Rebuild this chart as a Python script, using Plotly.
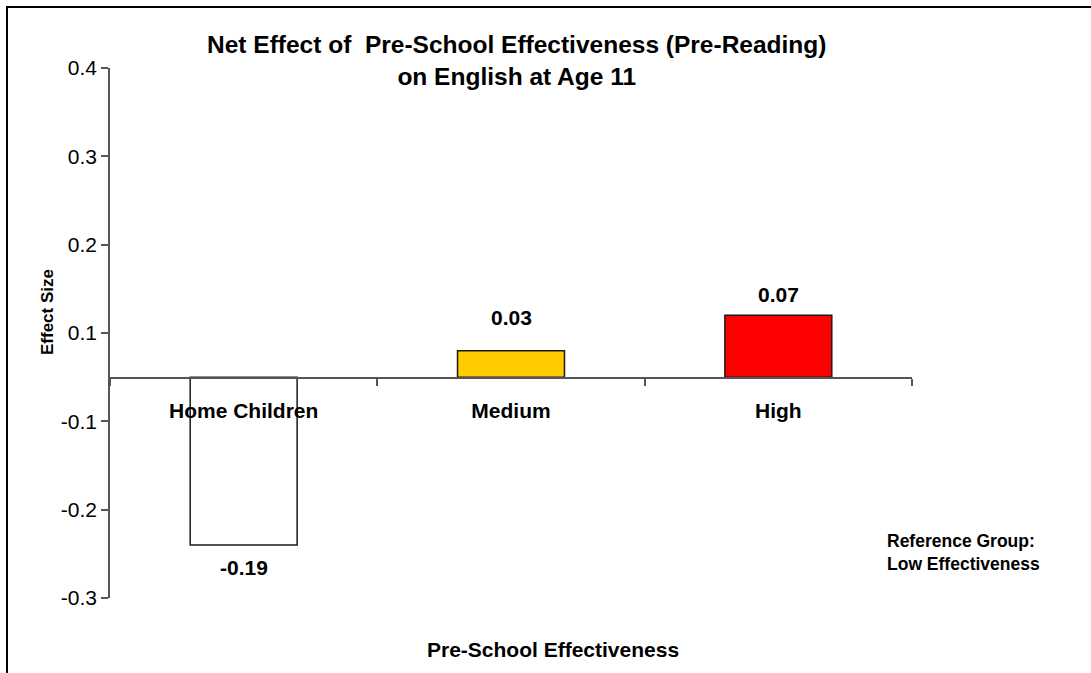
import plotly.graph_objects as go

# ---- data ----
categories = ["Home Children", "Medium", "High"]
effect_sizes = [-0.19, 0.03, 0.07]
effect_labels = ["-0.19", "0.03", "0.07"]
bar_colors = ["#FFFFFF", "#FFCC00", "#FF0000"]
ytick_values = [-0.25, -0.15, -0.05, 0.05, 0.15, 0.25, 0.35]
ytick_labels = ["-0.3", "-0.2", "-0.1", "0.1", "0.2", "0.3", "0.4"]

# ---- layout geometry (pixels) ----
W, H = 1091, 673
L, R, T, B = 110, 179, 68, 75
PW, PH = W - L - R, H - T - B


def px_x(x):
    return (x - L) / PW


def px_y(y):
    return (H - B - y) / PH


FONT = "Liberation Sans, Arial, sans-serif"
label_shift = [-22, 33, 21]

fig = go.Figure()
fig.add_trace(go.Bar(
    x=categories, y=effect_sizes,
    marker=dict(color=bar_colors, line=dict(color="#1a1a1a", width=1.5)),
    width=0.4, hoverinfo="x+y",
))

annotations = []
for c, v, t, s in zip(categories, effect_sizes, effect_labels, label_shift):
    annotations.append(dict(x=c, y=v, xref="x", yref="y", text=t, showarrow=False,
                            yshift=s, yanchor="middle",
                            font=dict(family=FONT, size=21, color="black", weight="bold")))

annotations += [
    dict(xref="paper", yref="paper", x=px_x(516), y=px_y(61),
         text="Net Effect of  Pre-School Effectiveness (Pre-Reading)<br>on English at Age 11",
         showarrow=False, xanchor="center", yanchor="middle", align="center",
         font=dict(family=FONT, size=24.5, color="black", weight="bold")),
    dict(xref="paper", yref="paper", x=px_x(47), y=px_y(312), text="Effect Size",
         textangle=-90, showarrow=False, xanchor="center", yanchor="middle",
         font=dict(family=FONT, size=17, color="black", weight="bold")),
    dict(xref="paper", yref="paper", x=px_x(553), y=px_y(649), text="Pre-School Effectiveness",
         showarrow=False, xanchor="center", yanchor="middle",
         font=dict(family=FONT, size=21, color="black", weight="bold")),
    dict(xref="paper", yref="paper", x=px_x(885), y=px_y(552),
         text="Reference Group:<br>Low Effectiveness",
         showarrow=False, xanchor="left", yanchor="middle", align="left",
         font=dict(family=FONT, size=17.5, color="black", weight="bold")),
]

fig.update_layout(
    width=W, height=H,
    margin=dict(l=L, r=R, t=T, b=B, pad=0),
    paper_bgcolor="white", plot_bgcolor="white",
    showlegend=False,
    annotations=annotations,
    shapes=[dict(type="rect", xref="paper", yref="paper",
                 x0=px_x(7), y0=px_y(720), x1=px_x(1200), y1=px_y(7),
                 line=dict(color="black", width=2), fillcolor="rgba(0,0,0,0)", layer="above")],
    xaxis=dict(
        type="category", range=[-0.5, 2.5], anchor="free", position=px_y(378),
        showline=True, linecolor="#555555", linewidth=1.5,
        ticks="outside", ticklen=7, tickcolor="#555555", tickwidth=1.5,
        tickson="boundaries", showgrid=False, zeroline=False,
        ticklabelstandoff=14,
        tickfont=dict(family=FONT, size=21, color="black", weight="bold"),
    ),
    yaxis=dict(
        range=[-0.25, 0.35], tickvals=ytick_values, ticktext=ytick_labels,
        showline=True, linecolor="#555555", linewidth=1.5,
        ticks="outside", ticklen=7, tickcolor="#555555", tickwidth=1.5,
        showgrid=False, zeroline=False,
        tickfont=dict(family=FONT, size=21, color="black"),
    ),
)

fig.write_html("out.html",
               config={"displayModeBar": False},
               post_script="document.body.style.margin='0px';document.body.style.padding='0px';")
